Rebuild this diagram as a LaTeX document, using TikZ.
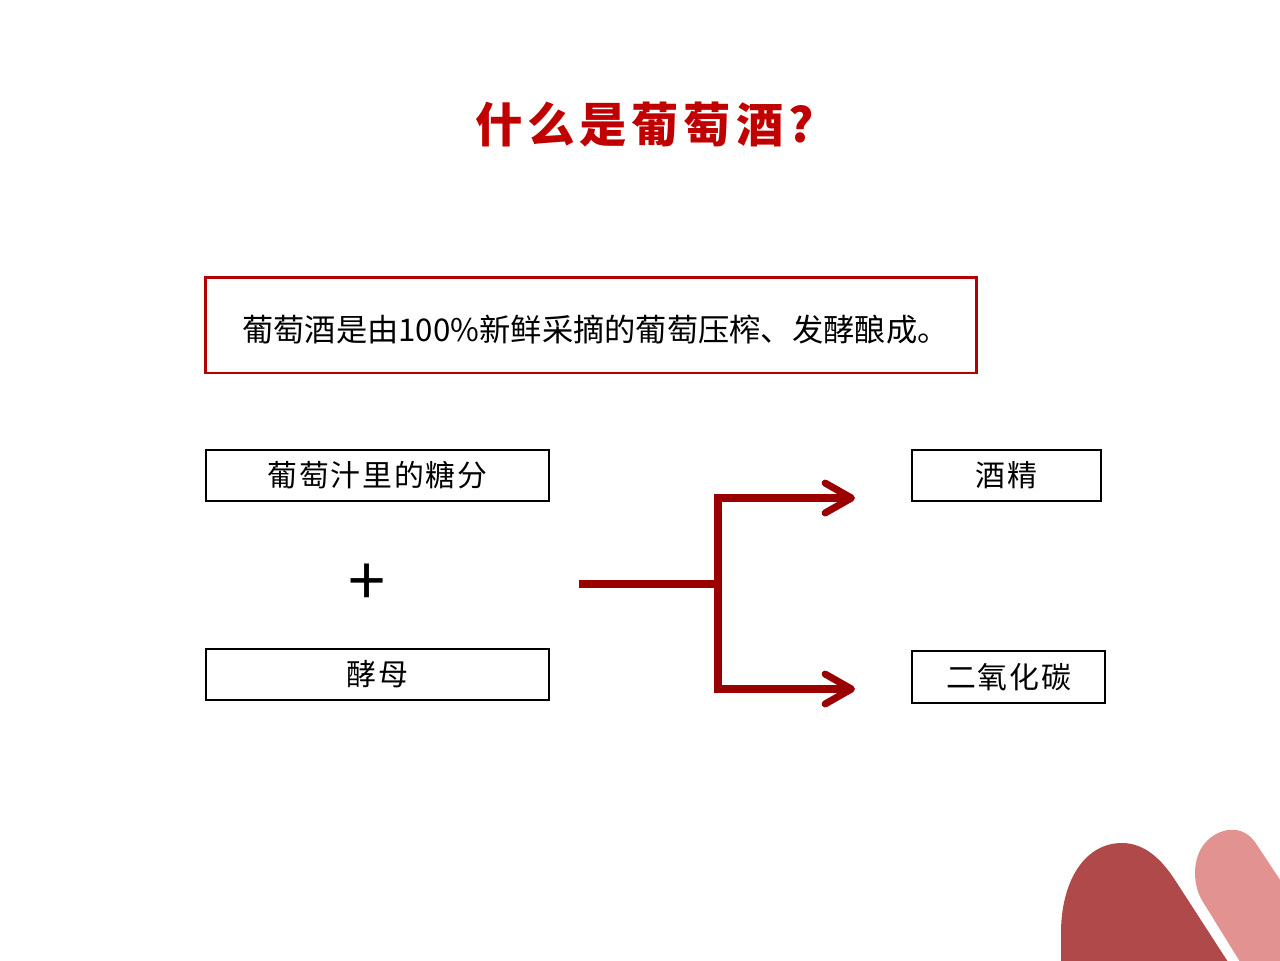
\documentclass[tikz,border=0pt]{standalone}
\usepackage{fontspec}
\setmainfont{Noto Sans CJK SC}
\usetikzlibrary{arrows.meta}

\definecolor{titlered}{RGB}{192,0,0}
\definecolor{framered}{RGB}{180,0,0}
\definecolor{arrowred}{RGB}{155,0,0}
\definecolor{darkpetal}{RGB}{176,74,74}
\definecolor{lightpetal}{RGB}{227,146,146}

\begin{document}
\begin{tikzpicture}[x=0.02cm,y=-0.02cm]

      \useasboundingbox (0,0) rectangle (1280,960);

      % title and the red frame
      \node[text=titlered, font=\fontsize{27}{30}\selectfont\bfseries\addfontfeatures{LetterSpace=10}, anchor=west] (title) at (469,125) {什么是葡萄酒?};
      \node[draw=framered, line width=1.7pt, minimum width=15.44cm, minimum height=1.92cm] (frame) at (591,325) {};
      \node[font=\fontsize{17.8}{20}\selectfont, anchor=west] (def) at (236,330) {葡萄酒是由100\%新鲜采摘的葡萄压榨、发酵酿成。};

      \begin{scope}[every node/.style={draw, line width=0.85pt, minimum height=1.02cm, font=\fontsize{17}{19}\selectfont\addfontfeatures{LetterSpace=6}}]
        \node[minimum width=6.86cm] (sugar)   at (377.5,475.5) {葡萄汁里的糖分};
        \node[minimum width=6.86cm] (yeast)   at (377.5,674.5) {酵母};
        \node[minimum width=3.78cm] (alcohol) at (1006.5,475.5) {酒精};
        \node[minimum width=3.86cm, minimum height=1.04cm] (co2) at (1008.5,677) {二氧化碳};
      \end{scope}

      \node[font=\fontsize{38}{40}\selectfont] (plus) at (367,585) {+};

      % fork arrow
      \coordinate (in)    at (579,584);
      \coordinate (split) at (718,584);
      \coordinate (up)    at (718,498);
      \coordinate (down)  at (718,689);
      \coordinate (out1)  at (855,498);
      \coordinate (out2)  at (855,689);

      \begin{scope}[draw=arrowred, line width=4pt]
        \draw (in) -- (split);
        \draw[-{Straight Barb[length=15pt,width=17pt,round]}] (split) -- (up) -- (out1);
        \draw[-{Straight Barb[length=15pt,width=17pt,round]}] (split) -- (down) -- (out2);
      \end{scope}

      % corner petals
      \begin{scope}
        \clip (0,0) rectangle (1280,960);
        \fill[darkpetal] (1061,965) -- (1061,930) .. controls (1062,880) and (1085,843) .. (1122,843)
          .. controls (1145,843) and (1162,860) .. (1175,880) -- (1230,965) -- cycle;
        \fill[lightpetal] (1242,965) -- (1203,902) .. controls (1192,885) and (1192,858) .. (1205,843)
          .. controls (1218,828) and (1243,822) .. (1257,845) -- (1300,910) -- (1300,965) -- cycle;
      \end{scope}

    \end{tikzpicture}
\end{document}
